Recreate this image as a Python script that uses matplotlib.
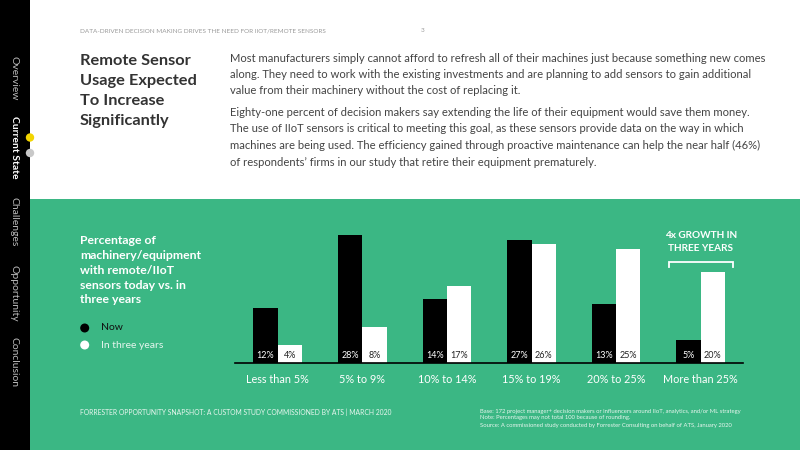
import matplotlib
matplotlib.use("Agg")
import matplotlib.pyplot as plt
from matplotlib.patches import Rectangle, Ellipse

plt.rcParams['font.family'] = ['Lato', 'DejaVu Sans']

categories = ["Less than 5%", "5% to 9%", "10% to 14%", "15% to 19%", "20% to 25%", "More than 25%"]
now_vals = [12, 28, 14, 27, 13, 5]
future_vals = [4, 8, 17, 26, 25, 20]
series_names = ["Now", "In three years"]
nav_items = ["Overview", "Current State", "Challenges", "Opportunity", "Conclusion"]

GREEN = "#3bb784"
W, H = 800, 450
fig = plt.figure(figsize=(8, 4.5), dpi=100)
fig.patch.set_facecolor("white")

def px(x, y):
    return x / W, 1 - y / H

def dot(x, y, r, color):
    fig.add_artist(Ellipse(px(x, y), 2 * r / W, 2 * r / H, transform=fig.transFigure,
                           facecolor=color, edgecolor="none", zorder=3))

# background panels
fig.add_artist(Rectangle(px(30, 450), 770 / W, 251 / H, transform=fig.transFigure,
                         facecolor=GREEN, edgecolor="none", zorder=0))
fig.add_artist(Rectangle(px(0, 450), 30 / W, 1, transform=fig.transFigure,
                         facecolor="black", edgecolor="none", zorder=0))

# sidebar navigation
nav_y = [78, 147, 222, 293, 362]
for name, y in zip(nav_items, nav_y):
    cur = name == "Current State"
    fig.text(*px(14, y), name, rotation=-90, ha="center", va="center",
             color="white" if cur else "#bbbbbb", fontsize=7.5,
             fontweight="bold" if cur else "normal")
dot(30, 137.5, 4.2, "#f2d500")
dot(30, 153, 4.2, "#c8c8c8")

# header
fig.text(*px(80, 31), "DATA-DRIVEN DECISION MAKING DRIVES THE NEED FOR IIOT/REMOTE SENSORS",
         fontsize=4.6, color="#999999", va="center")
fig.text(*px(421, 31), "3", fontsize=4.6, color="#999999", va="center")

# title
title_lines = ["Remote Sensor", "Usage Expected", "To Increase", "Significantly"]
for i, t in enumerate(title_lines):
    fig.text(*px(80, 61 + i * 20), t, fontsize=11.8, fontweight="bold", color="#333333", va="center")

# body text
body1 = ["Most manufacturers simply cannot afford to refresh all of their machines just because something new comes",
         "along. They need to work with the existing investments and are planning to add sensors to gain additional",
         "value from their machinery without the cost of replacing it."]
body2 = ["Eighty-one percent of decision makers say extending the life of their equipment would save them money.",
         "The use of IIoT sensors is critical to meeting this goal, as these sensors provide data on the way in which",
         "machines are being used. The efficiency gained through proactive maintenance can help the near half (46%)",
         "of respondents\u2019 firms in our study that retire their equipment prematurely."]
for i, t in enumerate(body1):
    fig.text(*px(230, 58 + i * 16.5), t, fontsize=8.12, color="#444444", va="center")
for i, t in enumerate(body2):
    fig.text(*px(230, 112 + i * 16.7), t, fontsize=8.12, color="#444444", va="center")

# left panel chart title and legend
ct = ["Percentage of", "machinery/equipment", "with remote/IIoT", "sensors today vs. in", "three years"]
for i, t in enumerate(ct):
    fig.text(*px(80, 241 + i * 14.7), t, fontsize=8.8, fontweight="bold", color="white", va="center")
dot(84.7, 328, 4.5, "black")
fig.text(*px(101, 328), series_names[0], fontsize=7.5, color="#111111", va="center")
dot(84.7, 345, 4.5, "white")
fig.text(*px(101, 345), series_names[1], fontsize=7.5, color="#e6f5ee", va="center")

# bar chart
ax = fig.add_axes([235.4 / W, 86.7 / H, (743 - 235.4) / W, (363.3 - 226.2) / H])
ax.set_facecolor("none")
xs = list(range(len(categories)))
bw = 0.288
b1 = ax.bar([x - bw / 2 for x in xs], now_vals, width=bw, color="black", zorder=2)
b2 = ax.bar([x + bw / 2 for x in xs], future_vals, width=bw, color="white", zorder=2)
for rect, v in zip(b1, now_vals):
    ax.text(rect.get_x() + rect.get_width() / 2, 1.7, f"{v}%", ha="center", va="center",
            fontsize=6.5, color="white")
for rect, v in zip(b2, future_vals):
    ax.text(rect.get_x() + rect.get_width() / 2, 1.7, f"{v}%", ha="center", va="center",
            fontsize=6.5, color="#222222")
ax.set_xlim(-0.5, len(categories) - 0.5)
ax.set_ylim(0, 30)
for s in ["top", "right", "left"]:
    ax.spines[s].set_visible(False)
ax.spines["bottom"].set_color("black")
ax.spines["bottom"].set_linewidth(1.2)
ax.set_yticks([])
ax.set_xticks(xs)
ax.set_xticklabels(categories, color="white", fontsize=7.8)
ax.tick_params(axis="x", length=0, pad=8)

# bracket annotation
last = len(categories) - 1
ax.plot([last - 0.38, last - 0.38, last + 0.38, last + 0.38], [21.0, 22.2, 22.2, 21.0],
        color="white", lw=1.3, clip_on=False, solid_joinstyle="miter")
ax.text(last, 27.9, "4x GROWTH IN", ha="center", va="center", fontsize=7.2, fontweight="bold",
        color="white", clip_on=False)
ax.text(last, 25.2, "THREE YEARS", ha="center", va="center", fontsize=7.2, fontweight="bold",
        color="white", clip_on=False)

# footer
fig.text(*px(80, 412), "FORRESTER OPPORTUNITY SNAPSHOT: A CUSTOM STUDY COMMISSIONED BY ATS | MARCH 2020",
         fontsize=4.9, color="#e8f6ef", va="center")
foot = ["Base: 172 project manager+ decision makers or influencers around IIoT, analytics, and/or ML strategy",
        "Note: Percentages may not total 100 because of rounding.",
        "Source: A commissioned study conducted by Forrester Consulting on behalf of ATS, January 2020"]
for i, t in enumerate(foot):
    fig.text(*px(480, 411 + i * 7), t, fontsize=4.25, color="#e8f6ef", va="center")

fig.savefig("out.png", dpi=100)
